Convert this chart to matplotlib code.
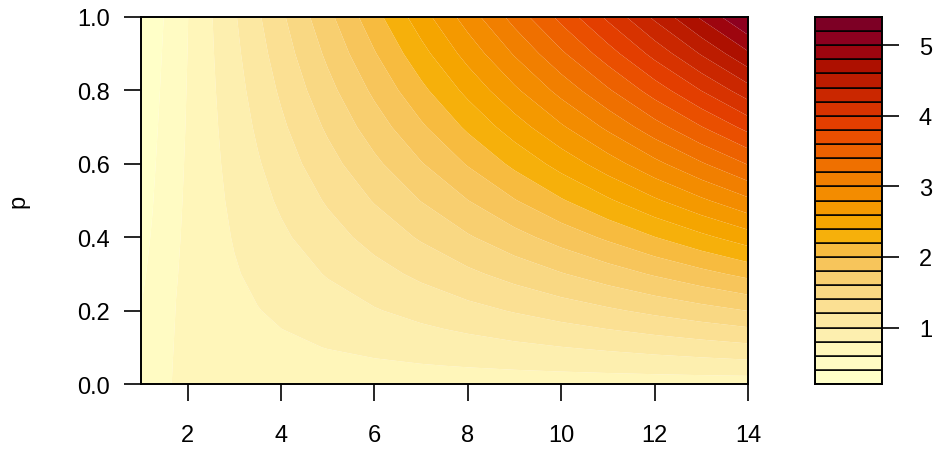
import numpy as np
import matplotlib
matplotlib.use("Agg")
import matplotlib.pyplot as plt

# x positions (n) and p values of the grid
n_vals = [1, 1.25, 1.5, 1.75, 2, 2.5, 3, 3.5, 4, 5, 6, 7, 8, 9, 10, 11, 12, 13, 14]
p_vals = [0, 0.02, 0.05, 0.1, 0.15, 0.2, 0.3, 0.4, 0.5, 0.6, 0.7, 0.8, 0.9, 1.0]

# surface values, one row per p value
z_grid = [
    [0.450, 0.480, 0.550, 0.630, 0.660, 0.690, 0.700, 0.700, 0.700, 0.700, 0.700, 0.700, 0.700, 0.700, 0.700, 0.700, 0.700, 0.700, 0.700],
    [0.445, 0.477, 0.547, 0.627, 0.659, 0.692, 0.706, 0.709, 0.713, 0.721, 0.729, 0.736, 0.744, 0.752, 0.759, 0.767, 0.775, 0.783, 0.790],
    [0.438, 0.472, 0.543, 0.624, 0.657, 0.695, 0.714, 0.724, 0.733, 0.752, 0.771, 0.791, 0.810, 0.829, 0.848, 0.867, 0.887, 0.907, 0.926],
    [0.426, 0.463, 0.536, 0.617, 0.654, 0.700, 0.728, 0.747, 0.766, 0.805, 0.843, 0.881, 0.919, 0.958, 0.996, 1.034, 1.074, 1.113, 1.152],
    [0.414, 0.455, 0.528, 0.611, 0.650, 0.705, 0.742, 0.771, 0.799, 0.857, 0.914, 0.972, 1.029, 1.087, 1.144, 1.202, 1.261, 1.320, 1.378],
    [0.402, 0.446, 0.521, 0.604, 0.647, 0.710, 0.756, 0.794, 0.832, 0.909, 0.986, 1.062, 1.139, 1.215, 1.292, 1.369, 1.448, 1.526, 1.604],
    [0.378, 0.429, 0.507, 0.591, 0.641, 0.719, 0.784, 0.841, 0.899, 1.014, 1.128, 1.243, 1.358, 1.473, 1.588, 1.703, 1.822, 1.939, 2.056],
    [0.354, 0.412, 0.492, 0.578, 0.634, 0.729, 0.812, 0.888, 0.965, 1.118, 1.271, 1.424, 1.578, 1.731, 1.884, 2.037, 2.196, 2.352, 2.508],
    [0.330, 0.395, 0.478, 0.565, 0.628, 0.739, 0.840, 0.935, 1.031, 1.223, 1.414, 1.606, 1.797, 1.989, 2.180, 2.372, 2.570, 2.765, 2.960],
    [0.306, 0.378, 0.463, 0.552, 0.622, 0.749, 0.867, 0.982, 1.097, 1.327, 1.557, 1.787, 2.016, 2.246, 2.476, 2.706, 2.944, 3.178, 3.412],
    [0.282, 0.361, 0.449, 0.539, 0.615, 0.758, 0.895, 1.029, 1.163, 1.432, 1.700, 1.968, 2.236, 2.504, 2.772, 3.040, 3.318, 3.591, 3.864],
    [0.258, 0.344, 0.434, 0.526, 0.609, 0.768, 0.923, 1.076, 1.230, 1.536, 1.842, 2.149, 2.455, 2.762, 3.068, 3.374, 3.692, 4.004, 4.316],
    [0.234, 0.327, 0.420, 0.513, 0.602, 0.778, 0.951, 1.124, 1.296, 1.641, 1.985, 2.330, 2.675, 3.019, 3.364, 3.709, 4.066, 4.417, 4.768],
    [0.210, 0.310, 0.405, 0.500, 0.596, 0.788, 0.979, 1.171, 1.362, 1.745, 2.128, 2.511, 2.894, 3.277, 3.660, 4.043, 4.440, 4.830, 5.220],
]

levels = np.round(np.arange(0.2, 5.41, 0.2), 1)


def hcl_to_rgb(h, c, l):
    # polar LUV -> XYZ (D65) -> sRGB
    xw, yw, zw = 95.047, 100.0, 108.883
    un = 4 * xw / (xw + 15 * yw + 3 * zw)
    vn = 9 * yw / (xw + 15 * yw + 3 * zw)
    u = c * np.cos(np.radians(h))
    v = c * np.sin(np.radians(h))
    y = yw * (((l + 16) / 116) ** 3 if l > 7.999592 else l / 903.3)
    uu = u / (13 * l) + un
    vv = v / (13 * l) + vn
    x = 9.0 * y * uu / (4 * vv)
    zz = -x / 3 - 5 * y + 3 * y / vv
    x, y, zz = x / 100, y / 100, zz / 100
    rgb = [3.240479 * x - 1.537150 * y - 0.498535 * zz,
           -0.969256 * x + 1.875992 * y + 0.041556 * zz,
           0.055648 * x - 0.204043 * y + 1.057311 * zz]
    out = []
    for t in rgb:
        t = min(max(t, 0), 1)
        t = 1.055 * t ** (1 / 2.4) - 0.055 if t > 0.0031308 else 12.92 * t
        out.append(min(max(t, 0), 1))
    return tuple(out)


def ylorrd(n, h1=5, h2=85, c1=75, c2=40, cmax=180, l1=25, l2=99, p1=1.6, p2=1.3):
    # sequential HCL palette, light end first
    i = np.linspace(1, 0, n)
    j = 1 / (1 + abs(cmax - c1) / abs(cmax - c2))
    ip = i ** p1
    cc = np.where(ip <= j, c2 - (c2 - cmax) * ip / j,
                  cmax - (cmax - c1) * (ip - j) / (1 - j))
    hh = h2 - (h2 - h1) * i
    ll = l2 - (l2 - l1) * i ** p2
    cols = [hcl_to_rgb(a, b, d) for a, b, d in zip(hh, cc, ll)]
    return cols[::-1]


cols = ylorrd(len(levels) - 1)

plt.rcParams['font.family'] = ['Liberation Sans', 'DejaVu Sans']
fs = 17

fig = plt.figure(figsize=(9.36, 4.52), dpi=100)
ax = fig.add_axes([141 / 936, 1 - 385 / 452, 607 / 936, 367 / 452])
cax = fig.add_axes([815 / 936, 1 - 385 / 452, 67 / 936, 367 / 452])

ax.contourf(n_vals, p_vals, z_grid, levels=levels, colors=cols, antialiased=True)
ax.set_xlim(1, 14)
ax.set_ylim(0, 1)
ax.set_xticks(range(2, 15, 2))
ax.set_yticks([0, 0.2, 0.4, 0.6, 0.8, 1.0])
ax.set_yticklabels(['0.0', '0.2', '0.4', '0.6', '0.8', '1.0'])
ax.tick_params(direction='out', length=12.5, width=1.2, labelsize=fs, pad=10)
ax.tick_params(axis='x', pad=16)
ax.set_ylabel('p', fontsize=fs)
ax.yaxis.set_label_coords(-0.183, 0.5)
for s in ax.spines.values():
    s.set_linewidth(1.4)

# key: one boxed rectangle per level band
for k in range(len(levels) - 1):
    cax.axhspan(levels[k], levels[k + 1], facecolor=cols[k], edgecolor='black', linewidth=1.1)
cax.set_xlim(0, 1)
cax.set_ylim(levels[0], levels[-1])
cax.set_xticks([])
cax.yaxis.tick_right()
cax.set_yticks([1, 2, 3, 4, 5])
cax.tick_params(direction='out', length=12.5, width=1.2, labelsize=fs, pad=14)
for s in cax.spines.values():
    s.set_linewidth(1.4)

fig.savefig('out.png', dpi=100)
